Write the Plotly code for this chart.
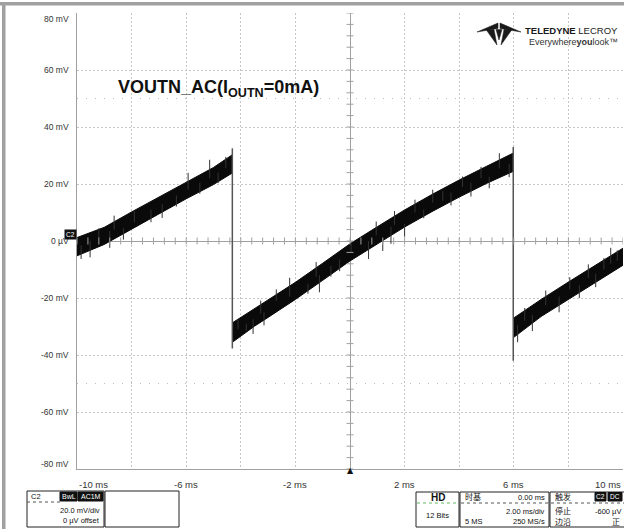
import numpy as np
import plotly.graph_objects as go

# ---------------- data ----------------
# time in ms, voltage in mV; noisy band given as centre + half width
ramp1_t = [-10.0, -9.0, -8.0, -7.0, -6.0, -5.0, -4.32]
ramp1_mid = [-2.0, 1.8, 7.2, 12.5, 17.8, 22.8, 27.0]
ramp1_half = [3.2, 3.0, 3.0, 3.0, 3.0, 3.0, 3.2]

ramp2_t = [-4.29, -3.5, -3.0, -2.0, -1.0, 0.0, 1.0, 2.0, 3.0, 4.0, 5.0, 5.97]
ramp2_mid = [-32.0, -26.8, -23.8, -17.5, -10.8, -4.0, 2.0, 7.9, 13.3, 18.4, 23.2, 27.6]
ramp2_half = [3.4, 3.1, 3.0, 3.0, 3.0, 3.0, 3.0, 3.0, 3.0, 3.0, 3.0, 3.2]

ramp3_t = [6.0, 7.0, 8.0, 9.0, 10.0]
ramp3_mid = [-30.4, -23.5, -17.4, -11.5, -5.5]
ramp3_half = [3.4, 3.0, 3.0, 3.0, 3.0]

# falling edges: time, top, bottom
edge_t = [-4.31, 5.98]
edge_top = [32.5, 33.0]
edge_bot = [-37.7, -42.0]

# noise spikes: time, one end, other end
spike_t = [-9.85, -9.52, -9.20, -8.80, -8.64, -8.30, -7.90, -7.29, -6.88, -6.36, -5.93, -5.50, -5.14, -4.83, -4.55,
           -4.10, -3.80, -3.55, -3.15, -3.27, -2.70, -2.21, -1.54, -1.12, -1.24, -0.70, -0.38, 0.04,
           0.68, 0.96, 1.20, 1.50, 1.63, 2.00, 2.38, 2.70, 3.03, 3.40, 3.70, 4.12, 4.43, 4.80, 5.10, 5.47, 5.83,
           6.14, 6.40, 6.68, 7.17, 7.66, 8.05, 8.40, 8.73, 9.00, 9.30, 9.55, 9.79]
spike_a = [-6.3, -5.7, 4.5, -2.4, 8.9, 0.5, 10.5, 6.6, 8.1, 12.1, 23.9, 16.6, 28.5, 20.3, 29.5,
           -27.3, -31.5, -32.6, -29.6, -20.9, -17.0, -12.9, -18.5, -18.0, -7.4, -8.8, -10.6, -1.0,
           -6.3, 6.8, -3.5, -1.0, 10.5, 1.5, 14.5, 8.0, 18.0, 17.5, 12.5, 22.6, 15.6, 26.0, 18.5, 30.8, 22.4,
           -35.5, -23.5, -31.6, -17.4, -25.0, -12.7, -20.0, -8.2, -16.2, -6.0, -2.4, -3.3]
spike_b = [-1.5, 0.0, 1.0, 3.5, 4.0, 4.5, 6.5, 11.0, 13.0, 16.0, 18.0, 20.5, 22.0, 24.0, 25.5,
           -31.0, -29.0, -27.5, -25.0, -25.5, -21.0, -19.5, -15.0, -12.0, -12.5, -12.5, -6.5, -4.0,
           0.0, 2.0, 1.0, 5.0, 5.7, 6.0, 10.0, 11.0, 13.5, 14.0, 17.0, 19.0, 20.5, 22.0, 22.5, 25.5, 27.0,
           -29.5, -28.0, -26.0, -22.5, -19.5, -17.0, -15.5, -13.0, -11.5, -10.0, -8.0, -7.0]

y_tick_vals = [80, 60, 40, 20, 0, -20, -40, -60, -80]
y_tick_text = ["80 mV", "60 mV", "40 mV", "20 mV", "0 µV", "-20 mV", "-40 mV", "-60 mV", "-80 mV"]
x_tick_vals = [-10, -6, -2, 2, 6, 10]
x_tick_text = ["-10 ms", "-6 ms", "-2 ms", "2 ms", "6 ms", "10 ms"]
cursor_levels = [50, -50]

# ---------------- layout geometry ----------------
W, H = 624, 529
L, R, T, B = 77, 623, 13, 469
PW, PH = R - L, B - T


def px(x):
    return (x - L) / PW


def py(y):
    return (B - y) / PH


FONT = "Arial, Liberation Sans, Noto Sans CJK SC, sans-serif"
CJK = "Noto Sans CJK SC, Arial, sans-serif"

fig = go.Figure()

# waveform bands
for t, m, h in [(ramp1_t, ramp1_mid, ramp1_half),
                (ramp2_t, ramp2_mid, ramp2_half),
                (ramp3_t, ramp3_mid, ramp3_half)]:
    t = np.array(t)
    m = np.array(m)
    h = np.array(h)
    xs = np.concatenate([t, t[::-1]])
    ys = np.concatenate([m + h, (m - h)[::-1]])
    fig.add_trace(go.Scatter(x=xs, y=ys, fill="toself", fillcolor="#0a0a0a",
                             line=dict(color="#0a0a0a", width=1), mode="lines",
                             hoverinfo="skip", showlegend=False))

# spikes
sx, sy = [], []
for t, a, b in zip(spike_t, spike_a, spike_b):
    sx += [t, t, None]
    sy += [a, b, None]
fig.add_trace(go.Scatter(x=sx, y=sy, mode="lines", line=dict(color="#333333", width=1),
                         hoverinfo="skip", showlegend=False))

# falling edges
ex, ey = [], []
for t, a, b in zip(edge_t, edge_top, edge_bot):
    ex += [t, t, None]
    ey += [a, b, None]
fig.add_trace(go.Scatter(x=ex, y=ey, mode="lines", line=dict(color="#555555", width=1.5),
                         hoverinfo="skip", showlegend=False))

# minor ticks on centre axes
mx = np.arange(-10, 10.001, 0.4)
fig.add_trace(go.Scatter(x=mx, y=np.zeros_like(mx), mode="markers",
                         marker=dict(symbol="line-ns", size=5, line=dict(color="#a0a0a0", width=1)),
                         hoverinfo="skip", showlegend=False))
my = np.arange(-80, 80.001, 4)
fig.add_trace(go.Scatter(x=np.zeros_like(my), y=my, mode="markers",
                         marker=dict(symbol="line-ew", size=5, line=dict(color="#a0a0a0", width=1)),
                         hoverinfo="skip", showlegend=False))

shapes = []
# cursor dotted lines
for lv in cursor_levels:
    shapes.append(dict(type="line", xref="paper", yref="y", x0=0, x1=1, y0=lv, y1=lv,
                       line=dict(color="#bdbdbd", width=1, dash="1px,8px"), layer="below"))

# outer window frame (top and left grey bars)
shapes.append(dict(type="rect", xref="paper", yref="paper", x0=px(0), x1=px(W), y0=py(5.5), y1=py(2),
                   fillcolor="#a0a0a0", line=dict(width=0)))
shapes.append(dict(type="rect", xref="paper", yref="paper", x0=px(2), x1=px(5.5), y0=py(H), y1=py(2),
                   fillcolor="#a0a0a0", line=dict(width=0)))


def rect(x0, y0, x1, y1, fill="rgba(0,0,0,0)", line="#222222", w=1):
    shapes.append(dict(type="rect", xref="paper", yref="paper", x0=px(x0), x1=px(x1),
                       y0=py(y0), y1=py(y1), fillcolor=fill, line=dict(color=line, width=w)))


def hline(x0, x1, y, color="#555555", dash="dot"):
    shapes.append(dict(type="line", xref="paper", yref="paper", x0=px(x0), x1=px(x1),
                       y0=py(y), y1=py(y), line=dict(color=color, width=1, dash=dash)))


ann = []


def text(x, y, s, size=8, anchor="left", color="#111111", font=FONT):
    ann.append(dict(xref="paper", yref="paper", x=px(x), y=py(y), text=s, showarrow=False,
                    xanchor=anchor, yanchor="middle", font=dict(size=size, color=color, family=font)))


# bottom info boxes
rect(27, 491, 104, 527)
hline(27, 60, 502)
rect(60, 492, 77, 501, fill="#111111", line="#111111")
rect(78, 492, 103, 501, fill="#111111", line="#111111")
text(29, 496.5, "C2", 7.5)
text(68.5, 496.5, "BwL", 7, anchor="center", color="white")
text(90.5, 496.5, "AC1M", 7, anchor="center", color="white")
text(102, 510.5, "20.0 mV/div", 7.5, anchor="right")
text(102, 520.5, "0 µV offset", 7.5, anchor="right")
rect(105, 491, 179, 527)

rect(416, 492, 459, 527)
hline(417, 458, 503, color="#66bb66")
text(437.5, 497, "<b>HD</b>", 10, anchor="center")
text(437.5, 515, "12 Bits", 7.5, anchor="center")

rect(460, 492, 549, 527)
hline(461, 548, 503)
text(463, 496.5, "时基", 8, font=CJK)
text(547, 497, "0.00 ms", 7.5, anchor="right")
text(547, 511, "2.00 ms/div", 7.5, anchor="right")
text(463, 521, "5 MS", 7.5)
text(547, 521, "250 MS/s", 7.5, anchor="right")

rect(550, 492, 626, 527)
hline(551, 624, 503)
text(553, 496.5, "触发", 8, font=CJK)
rect(595, 492.5, 606, 501, fill="#111111", line="#111111")
rect(608, 492.5, 622, 501, fill="#111111", line="#111111")
text(600.5, 496.5, "C2", 6.5, anchor="center", color="white")
text(615, 496.5, "DC", 6.5, anchor="center", color="white")
text(553, 510.5, "停止", 8, font=CJK)
text(623, 511, "-600 µV", 7.5, anchor="right")
text(553, 521, "边沿", 8, font=CJK)
text(622, 521, "正", 8, anchor="right", font=CJK)

# Teledyne logo glyph (pixel coordinates converted to paper)
logo_pts = [
    [(477, 32), (498, 23), (498, 28.5)],
    [(521, 32), (500, 23), (500, 28.5)],
    [(486, 29.5), (494, 29.5), (497, 45)],
    [(504, 29.5), (512, 29.5), (501, 45)],
    [(496, 29.5), (502, 29.5), (499, 40)],
]
for tri in logo_pts:
    path = "M " + " L ".join(f"{px(a):.5f},{py(b):.5f}" for a, b in tri) + " Z"
    shapes.append(dict(type="path", xref="paper", yref="paper", path=path,
                       fillcolor="#1a1a1a", line=dict(color="#1a1a1a", width=0.5)))

text(620, 30.5, "<b>TELEDYNE</b> LECROY", 9.5, anchor="right", color="#1a1a1a")
text(620, 41.5, "Everywhere<b>you</b>look™", 9, anchor="right", color="#333333")

# title
ann.append(dict(xref="paper", yref="paper", x=px(116), y=py(88), xanchor="left", yanchor="middle",
                text="<b>VOUTN_AC(I<sub>OUTN</sub>=0mA)</b>", showarrow=False,
                font=dict(size=18, color="#111111", family=FONT)))

# y tick labels
for v, s in zip(y_tick_vals, y_tick_text):
    shift = 0
    if v == y_tick_vals[0]:
        shift = -6
    elif v == y_tick_vals[-1]:
        shift = 5
    ann.append(dict(xref="paper", yref="y", x=px(71), y=v, yshift=shift, text=s, showarrow=False,
                    xanchor="right", yanchor="middle", font=dict(size=8.5, color="#333333", family=FONT)))

# C2 channel marker (drawn over the 0 label)
ann.append(dict(xref="paper", yref="paper", x=px(70.5), y=py(234.5), text="C2", showarrow=False,
                xanchor="center", yanchor="middle", bgcolor="#111111", borderpad=1,
                font=dict(size=6.5, color="white", family=FONT)))

# x tick labels
for v, s in zip(x_tick_vals, x_tick_text):
    anchor = "center"
    if v == x_tick_vals[0]:
        anchor = "left"
    elif v == x_tick_vals[-1]:
        anchor = "right"
    ann.append(dict(xref="x", yref="paper", x=v, y=py(484), text=s, showarrow=False,
                    xanchor=anchor, yanchor="middle", font=dict(size=9.5, color="#333333", family=FONT)))

# trigger position marker
ann.append(dict(xref="x", yref="paper", x=0, y=py(470.5), text="▲", showarrow=False,
                xanchor="center", yanchor="middle", font=dict(size=8, color="#111111", family="DejaVu Sans")))

fig.update_layout(
    width=W, height=H,
    margin=dict(l=L, r=W - R, t=T, b=H - B),
    paper_bgcolor="white", plot_bgcolor="white",
    showlegend=False,
    shapes=shapes,
    annotations=ann,
    xaxis=dict(range=[-10, 10], dtick=2, tick0=-10, showticklabels=False, ticks="",
               showgrid=True, gridcolor="#c6c6c6", griddash="2px,2px", gridwidth=1,
               zeroline=True, zerolinecolor="#a0a0a0", zerolinewidth=1,
               showline=True, linecolor="#a0a0a0", linewidth=1, fixedrange=True),
    yaxis=dict(range=[-80, 80], dtick=20, tick0=-80, showticklabels=False, ticks="",
               showgrid=True, gridcolor="#c6c6c6", griddash="2px,2px", gridwidth=1,
               zeroline=True, zerolinecolor="#a0a0a0", zerolinewidth=1,
               showline=True, linecolor="#a0a0a0", linewidth=1, fixedrange=True),
)

fig.write_html("out.html", config={"displayModeBar": False},
               post_script="document.body.style.margin='0';document.body.style.overflow='hidden';")
